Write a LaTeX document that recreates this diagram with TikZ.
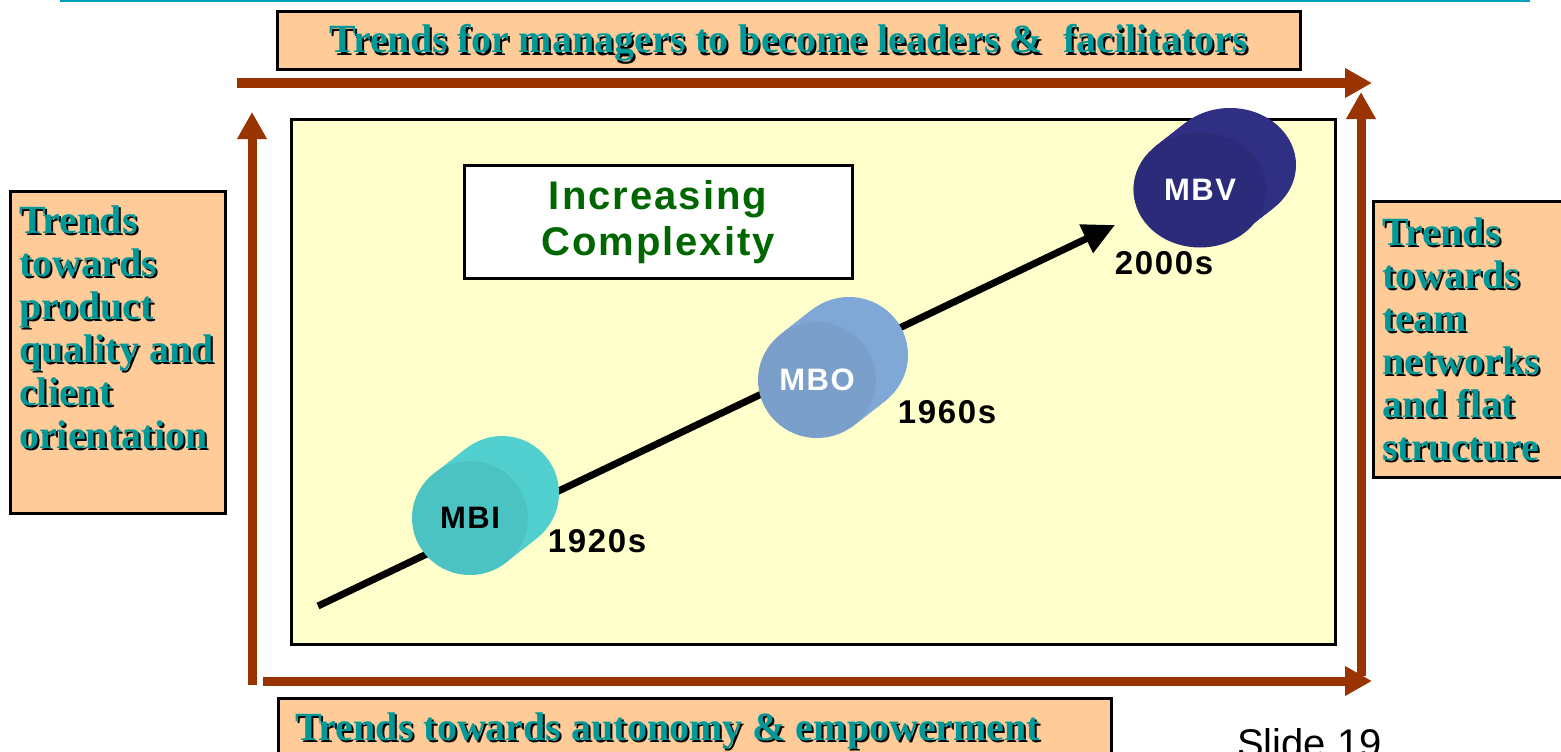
\documentclass[tikz,border=0pt]{standalone}
\usepackage{fontspec}
\setmainfont{Liberation Serif}
\setsansfont{Liberation Sans}
\newfontfamily\widesans[LetterSpace=5]{Liberation Sans}
\usetikzlibrary{arrows.meta,shapes.geometric,positioning}

\definecolor{peach}{HTML}{FFCC99}
\definecolor{trendteal}{HTML}{009999}
\definecolor{panelyellow}{HTML}{FFFFCC}
\definecolor{rust}{HTML}{993300}
\definecolor{slidecyan}{HTML}{00A0C0}
\definecolor{complexgreen}{HTML}{006600}
\definecolor{mbiface}{HTML}{4CC3C3}
\definecolor{mbiside}{HTML}{52D0D0}
\definecolor{mboface}{HTML}{7A9FCA}
\definecolor{mboside}{HTML}{80A8D6}
\definecolor{mbvface}{HTML}{2B2B7A}
\definecolor{mbvside}{HTML}{2F2F84}

% teal text with a black drop shadow
\newcommand\shadowed[1]{\makebox[0pt][l]{\kern2pt\raisebox{-2pt}{\color{black}#1}}\textcolor{trendteal}{#1}}
% cylinder body: centre x, centre y, x radius, y radius, colour
\newcommand\drumbody[5]{%
  \foreach \s in {1,0.95,...,0.04}
    \fill[#5] (#1+\s*32,#2-\s*25) ellipse [x radius=#3, y radius=#4];}

\tikzstyle{trendbox} = [draw=black, line width=3, fill=peach, inner sep=0]
\tikzstyle{trendtext} = [font=\bfseries\fontsize{40}{43}\selectfont, align=left, inner sep=0]
\tikzstyle{rustarrow} = [draw=rust, line width=9, -{Triangle[length=27pt,width=28pt]}]
\tikzstyle{drumface} = [ellipse, inner sep=0, font=\widesans\bfseries\fontsize{31}{34}\selectfont]
\tikzstyle{yearlabel} = [inner sep=0, font=\widesans\bfseries\fontsize{33}{36}\selectfont]

\begin{document}
\begin{tikzpicture}[x=1pt,y=-1pt]
                \useasboundingbox (0,0) rectangle (1561,752);
                \clip (0,0) rectangle (1561,752);
                % slide rule at the top
                \coordinate (rulestart) at (60,1);
                \coordinate (ruleend) at (1530,1);
                \draw[slidecyan, line width=3] (rulestart) -- (ruleend);
                % top banner
                \node[trendbox, trendtext,
                    text height=24pt, text depth=0pt,
                    minimum width=1023,
                    minimum height=58] (leaders) at (788.5,41) {\shadowed{Trends for managers to become leaders \&\ \ facilitators}};
                % frame arrows
                \coordinate (topleft) at (237,83);
                \coordinate (topright) at (1372,83);
                \coordinate (leftlow) at (252,685);
                \coordinate (lefthigh) at (252,112);
                \coordinate (rightlow) at (1361,676);
                \coordinate (righthigh) at (1361,92);
                \coordinate (bottomleft) at (263,681);
                \coordinate (bottomright) at (1372,681);
                \draw[rustarrow] (topleft) -- (topright);
                \draw[rustarrow] (leftlow) -- (lefthigh);
                \draw[rustarrow] (rightlow) -- (righthigh);
                \draw[rustarrow] (bottomleft) -- (bottomright);
                % yellow panel
                \node[draw, line width=3, fill=panelyellow, inner sep=0,
                    minimum width=1044,
                    minimum height=525,
                    anchor=north west] (panel) at (290,118) {};
                \node[draw, line width=3, fill=white, inner sep=0, align=center,
                    minimum width=388,
                    minimum height=113,
                    text=complexgreen,
                    font=\widesans\bfseries\fontsize{40}{46}\selectfont] (complexity) at (658,222) {Increasing\\Complexity};
                % growth arrow
                \coordinate (growstart) at (318,606);
                \coordinate (growend) at (1115,225);
                \draw[line width=7, -{Triangle[length=32pt,width=30pt]}] (growstart) -- (growend);
                % cylinders
                \drumbody{470}{518}{57}{57}{mbiside}
                \node[drumface, fill=mbiface, minimum width=116, minimum height=114] (mbi) at (470,518) {MBI};
                \drumbody{817}{380}{59}{58}{mboside}
                \node[drumface, fill=mboface, minimum width=118, minimum height=116, text=white] (mbo) at (817,380) {MBO};
                \drumbody{1198}{190}{66}{57}{mbvside}
                \node[drumface, fill=mbvface, minimum width=133, minimum height=115, text=white] (mbv) at (1200,190) {MBV};
                \node[yearlabel] (y1920) at (597,541) {1920s};
                \node[yearlabel] (y1960) at (947,412) {1960s};
                \node[yearlabel] (y2000) at (1164,263) {2000s};
                % side banners
                \node[trendbox,
                    minimum width=215,
                    minimum height=322,
                    anchor=north west] (qualbox) at (9,190) {};
                \node[trendtext, anchor=north west] (qualtxt) at (19,206) {\shadowed{Trends}\\\shadowed{towards}\\\shadowed{product}\\\shadowed{quality and}\\\shadowed{client}\\\shadowed{orientation}};
                \node[trendbox,
                    minimum width=220,
                    minimum height=276,
                    anchor=north west] (teambox) at (1372,200) {};
                \node[trendtext, anchor=north west] (teamtxt) at (1382,218) {\shadowed{Trends}\\\shadowed{towards}\\\shadowed{team}\\\shadowed{networks}\\\shadowed{and flat}\\\shadowed{structure}};
                % bottom banner
                \node[trendbox,
                    minimum width=833,
                    minimum height=80,
                    anchor=north west] (autobox) at (277,697) {};
                \node[trendtext, anchor=base west] (autotxt) at (295,740) {\shadowed{Trends towards autonomy \& empowerment}};
                \node[inner sep=0, anchor=base west, font=\sffamily\fontsize{40}{42}\selectfont] (slide) at (1237,757) {Slide 19};
        \end{tikzpicture}
\end{document}
